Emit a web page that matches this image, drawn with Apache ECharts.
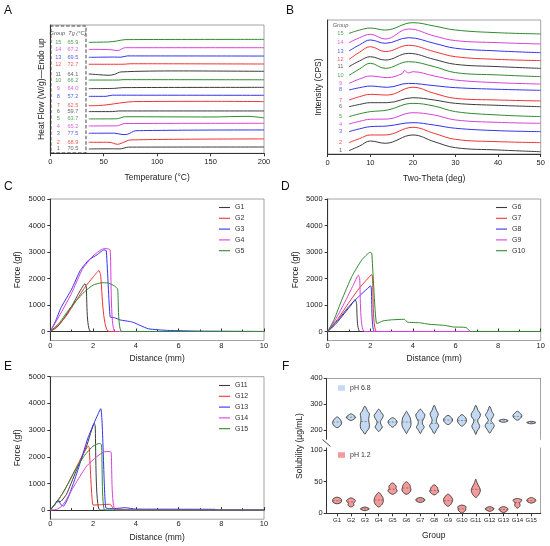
<!DOCTYPE html>
<html><head><meta charset="utf-8">
<script src="https://cdn.jsdelivr.net/npm/echarts@6/dist/echarts.min.js"></script>
<style>html,body{margin:0;padding:0;background:#fff}#c{width:550px;height:546px}</style>
</head><body><div id="c"></div><script>
const FONT = 'Arial, "Liberation Sans", Helvetica, sans-serif';
const K = '#3c3c3c', R = '#f23232', B = '#3232f0', M = '#d840d8', G = '#2e8a2e';

// ---------- Panel A: DSC ----------
const groupNumbers = ['1','2','3','4','5','6','7','8','9','10','11','12','13','14','15'];
const tgValues = ['70.5','68.9','77.5','65.2','63.7','59.7','62.5','57.2','64.0','66.2','64.1','72.7','69.5','67.2','65.9'];
const dsc1 = [[36,3.4],[60,3.5],[65,3.4],[73,4.8],[200,4.9]];
const dsc2 = [[36,8.6],[55,8.6],[63,7.0],[67,8.0],[75,10.4],[200,11.2]];
const dsc3 = [[36,15.6],[60,15.7],[68,14.6],[72,14.8],[80,17.6],[200,18.2]];
const dsc4 = [[36,21.3],[62,21.4],[70,23.2],[200,23.4]];
const dsc5 = [[36,26.8],[62,26.9],[70,28.5],[150,28.3],[185,28.8],[200,27.6]];
const dsc6 = [[36,32.5],[58,32.5],[64,33.0],[200,33.0]];
const dsc7 = [[36,37.1],[45,37.2],[55,38.0],[65,39.2],[78,40.3],[150,40.5],[200,40.3]];
const dsc8 = [[36,44.4],[52,44.4],[58,45.3],[200,45.2]];
const dsc9 = [[36,50.4],[60,50.6],[68,51.2],[200,51.4]];
const dsc10 = [[36,57.1],[64,57.1],[68,57.4],[200,57.3]];
const dsc11 = [[36,61.8],[45,61.3],[55,60.8],[60,61.5],[66,63.4],[120,64.2],[200,63.9]];
const dsc12 = [[36,69.4],[68,69.4],[75,69.8],[200,69.6]];
const dsc13 = [[36,74.8],[60,75.0],[66,74.9],[72,75.9],[200,75.8]];
const dsc14 = [[36,81.0],[56,80.8],[63,80.0],[70,82.3],[200,82.3]];
const dsc15 = [[36,86.5],[55,86.8],[62,87.5],[70,88.6],[200,88.8]];
const dscCurves = [dsc1,dsc2,dsc3,dsc4,dsc5,dsc6,dsc7,dsc8,dsc9,dsc10,dsc11,dsc12,dsc13,dsc14,dsc15];
const dscLineColors = [K,R,B,M,G,K,R,B,K,G,K,R,B,M,G];
const tableTextColors = [K,R,B,M,G,K,R,B,M,G,K,R,B,M,G];

// ---------- Panel B: XRD ----------
const xrd1 = [[5,2.5],[7.5,6.0],[10,9.7],[13.5,8.0],[20,14.2],[25,9.2],[30,4.7],[40,3.0],[50,1.7]];
const xrd2 = [[5,8.5],[7.5,11.5],[10,14.2],[13.5,14.2],[20,19.9],[25,15.4],[30,10.9],[40,9.2],[50,8.5]];
const xrd3 = [[5,16.7],[7.5,18.8],[10,20.4],[14,20.9],[20,23.4],[25,21.6],[30,19.2],[40,17.4],[50,16.7]];
const xrd4 = [[5,22.4],[7.5,24.4],[10,25.9],[14,26.1],[20,30.8],[25,29.1],[30,25.4],[40,23.6],[50,22.9]];
const xrd5 = [[5,27.9],[7.5,30.0],[10,31.6],[14,32.8],[20,37.8],[25,35.8],[30,31.6],[40,29.1],[50,27.9]];
const xrd6 = [[5,35.3],[7.5,37.0],[10,38.3],[14,38.3],[20,42.0],[25,40.3],[30,37.8],[40,36.3],[50,35.3]];
const xrd7 = [[5,40.3],[7.5,42.8],[10,44.5],[14,44.0],[20,49.8],[25,45.3],[30,41.5],[40,40.3],[50,39.6]];
const xrd8 = [[5,47.8],[7.5,49.5],[10,50.7],[14,49.8],[19,52.7],[25,51.0],[30,49.5],[40,48.3],[50,47.5]];
const xrd9 = [[5,52.7],[7.5,56.0],[10,58.2],[14,57.0],[17.5,60.0],[18,62.2],[19,60.5],[20,61.4],[25,58.2],[30,55.2],[40,53.2],[50,52.2]];
const xrd10 = [[5,58.7],[7.5,63.5],[10,67.7],[13.5,63.9],[19,68.9],[25,65.2],[30,60.7],[40,59.0],[50,57.7]];
const xrd11 = [[5,65.2],[7.5,69.5],[10,72.6],[13.5,70.1],[19,75.1],[25,70.6],[30,66.9],[40,65.2],[50,63.9]];
const xrd12 = [[5,70.6],[7.5,76.0],[10,80.1],[13.5,76.4],[19,81.1],[25,76.4],[30,72.6],[40,70.6],[50,69.7]];
const xrd13 = [[5,76.9],[7.5,81.5],[10,85.1],[13.5,82.6],[19,86.8],[25,82.6],[30,78.9],[40,76.9],[50,75.6]];
const xrd14 = [[5,83.1],[7.5,86.8],[10,89.3],[13.5,85.8],[19,93.3],[25,88.1],[30,84.6],[40,83.1],[50,82.1]];
const xrd15 = [[5,90.0],[7.5,92.5],[10,94.0],[13.5,92.5],[20,98.0],[25,95.5],[30,92.5],[40,90.5],[50,89.6]];
const xrdCurves = [xrd1,xrd2,xrd3,xrd4,xrd5,xrd6,xrd7,xrd8,xrd9,xrd10,xrd11,xrd12,xrd13,xrd14,xrd15];
const xrdColors = [K,R,B,M,G,K,R,B,M,G,K,R,B,M,G];

// ---------- Panels C, D, E: texture ----------
const texNames = ['G1','G2','G3','G4','G5','G6','G7','G8','G9','G10','G11','G12','G13','G14','G15'];
const texG1 = [[0,0],[0.3,150],[0.6,450],[1.0,950],[1.3,1400],[1.62,1800],[1.68,1700],[1.9,0],[10,0]];
const texG2 = [[0,0],[0.4,250],[0.8,650],[1.2,1150],[1.6,1650],[2.0,2050],[2.28,2300],[2.35,2150],[2.75,0],[10,0]];
const texG3 = [[0,0],[0.25,400],[0.5,900],[1.0,1600],[1.4,2300],[1.8,2700],[2.2,2900],[2.5,3080],[2.62,3050],[2.8,550],[3.0,520],[3.3,430],[3.7,380],[3.9,340],[4.2,230],[4.6,100],[5.5,40],[7,15],[10,0]];
const texG4 = [[0,0],[0.5,700],[1.0,1450],[1.5,2350],[2.0,2850],[2.4,3100],[2.6,3130],[2.8,3080],[3.03,0],[10,0]];
const texG5 = [[0,0],[0.4,300],[0.8,750],[1.2,1150],[1.6,1500],[2.0,1750],[2.4,1840],[2.7,1830],[3.0,1720],[3.15,1600],[3.35,0],[10,0]];
const texG6 = [[0,0],[0.4,300],[0.8,700],[1.1,1000],[1.28,1200],[1.35,1100],[1.52,0],[10,0]];
const texG7 = [[0,0],[0.5,500],[1.0,1100],[1.5,1650],[2.07,2150],[2.3,0],[10,0]];
const texG8 = [[0,0],[0.5,450],[1.0,950],[1.5,1350],[2.02,1720],[2.2,0],[10,0]];
const texG9 = [[0,0],[0.4,500],[0.8,1100],[1.2,1750],[1.44,2130],[1.5,2000],[1.72,0],[9.1,0]];
const texG10 = [[0,0],[0.3,450],[0.66,1190],[1.13,2070],[1.6,2700],[1.99,2990],[2.07,2950],[2.3,300],[2.6,400],[3.0,440],[3.6,460],[3.75,350],[4.3,330],[4.8,270],[5.5,230],[5.9,170],[6.5,150],[6.7,0],[10,0]];
const texG11 = [[0,0],[0.3,300],[0.5,330],[0.76,600],[1.2,1450],[1.7,2400],[2.06,3250],[2.1,3150],[2.32,0],[10,0]];
const texG12 = [[0,0],[0.6,650],[1.08,1380],[1.47,2000],[1.78,2400],[1.82,2350],[2.0,190],[2.3,200],[2.8,220],[2.95,60],[3.4,20],[4,0],[10,0]];
const texG13 = [[0,0],[0.2,200],[0.37,380],[0.5,200],[0.62,150],[0.8,400],[1.08,1000],[1.39,1750],[1.78,2750],[2.36,3800],[2.6,80],[3.0,60],[3.5,90],[4.0,40],[7.7,30],[7.8,0],[10,0]];
const texG14 = [[0,0],[0.3,30],[0.5,120],[0.69,310],[1.0,750],[1.23,1060],[1.7,1650],[2.17,2000],[2.5,2180],[2.8,2200],[2.85,2150],[3.05,0],[10,0]];
const texG15 = [[0,0],[0.4,400],[0.8,950],[1.2,1550],[1.6,2050],[2.0,2400],[2.3,2500],[2.4,2450],[2.55,0],[10,0]];
const texCurves = [texG1,texG2,texG3,texG4,texG5,texG6,texG7,texG8,texG9,texG10,texG11,texG12,texG13,texG14,texG15];
const texColors = [K,R,B,M,G,K,R,B,M,G,K,R,B,M,G];
const forceTicks = [0,1000,2000,3000,4000,5000];

// ---------- Panel F: solubility violins (value, relative half-width) ----------
const solGroups = ['G1','G2','G3','G4','G5','G6','G7','G8','G9','G10','G11','G12','G13','G14','G15'];
const solPositions = [1,2,3,4,5,6,7,8,9,10,11,12,13,14,15];
const violinPH68 = [
  [[208,0],[218,0.8],[228,1],[238,0.75],[250,0]],
  [[236,0],[243,0.8],[249,1],[255,0.7],[262,0]],
  [[183,0],[195,0.45],[205,0.9],[220,1],[235,0.85],[250,0.9],[262,1],[272,0.6],[292,0]],
  [[193,0],[203,0.5],[211,0.8],[222,0.45],[232,0.38],[245,0.8],[256,1],[266,0.6],[280,0]],
  [[210,0],[220,0.7],[230,1],[238,0.8],[247,0]],
  [[185,0],[198,0.4],[210,0.85],[222,1],[235,0.95],[248,0.8],[260,0.4],[272,0]],
  [[185,0],[198,0.4],[210,0.85],[222,0.5],[232,0.45],[245,0.8],[258,1],[268,0.6],[280,0]],
  [[185,0],[200,0.5],[215,1],[228,0.6],[238,0.45],[250,0.7],[262,0.9],[275,0.5],[295,0]],
  [[220,0],[228,0.7],[238,1],[246,0.8],[256,0]],
  [[214,0],[224,0.7],[236,1],[248,0.75],[259,0]],
  [[182,0],[195,0.3],[207,0.75],[217,0.85],[230,0.45],[240,0.5],[250,0.9],[262,1],[275,0.5],[295,0]],
  [[187,0],[200,0.5],[215,1],[226,0.7],[236,0.3],[246,0.55],[258,0.9],[270,0.5],[291,0]],
  [[229,0],[232,0.8],[235,1],[238,0.8],[241,0]],
  [[237,0],[245,0.7],[254,1],[262,0.7],[272,0]],
  [[223,0],[226,0.8],[228,1],[230,0.8],[233,0]]
];
const medianPH68 = [230,249,232,230,230,230,238,225,238,236,238,225,235,252,228];
const violinPH12 = [
  [[15,0],[17,0.85],[20,1],[23,0.85],[25.5,0]],
  [[10,0],[13,0.7],[15,0.55],[18,0.8],[20,1],[22,0.7],[24.5,0]],
  [[4,0],[5.5,0.7],[7,1],[8.5,0.7],[10,0]],
  [[10,0],[13,0.6],[17,0.95],[21,1],[25,0.9],[29,0.55],[33,0]],
  [[30,0],[33,0.8],[36,1],[39,0.75],[42,0.8],[45,0.6],[48,0]],
  [[30,0],[33,0.7],[37,1],[41,0.85],[44,0.8],[47,0.5],[50,0]],
  [[17,0],[19,0.8],[21,1],[23,0.85],[25,0]],
  [[29,0],[32,0.7],[35,1],[38,0.8],[41,0.7],[45,0]],
  [[11,0],[14,0.6],[18,0.9],[22,1],[26,0.7],[30.5,0]],
  [[0,0],[2,0.4],[5,0.8],[8,0.85],[10.5,0.9],[13,0]],
  [[25,0],[29,0.6],[33,0.9],[37,1],[41,0.8],[45,0.5],[49,0.25],[54,0]],
  [[3,0],[5,0.7],[7,1],[9,0.7],[10.5,0]],
  [[1,0],[3,0.6],[5,0.9],[7,1],[9,0.7],[10.5,0]],
  [[8,0],[11,0.5],[13,0.6],[16,0.5],[19,0.8],[21,1],[23.5,0]],
  [[16,0],[18,0.75],[20,1],[22,0.9],[25,0]]
];
const medianPH12 = [20,18,7,21,38,40,21,36,20,7,38,7,6,17,20];
const solTicksHigh = [200,300,400];
const solTicksLow = [0,50,100];

// ---------- helpers ----------
const tickLabel = {color:'#222', fontSize:7.5, fontFamily:FONT};
const nameStyle = {color:'#222', fontSize:8.5, fontFamily:FONT};
const darkLine = {show:true, lineStyle:{color:'#333', width:1}};
const gridFrame = {show:true, borderColor:'#8c8c8c', borderWidth:0.8, backgroundColor:'transparent'};
const HALF = 0.33;
const plain = v => String(v);

function lineSeries(name, data, color, idx, smooth){
  return {type:'line', name, data, xAxisIndex:idx, yAxisIndex:idx, symbol:'none', smooth,
    lineStyle:{color, width:1}, itemStyle:{color}, silent:true, animation:false};
}
function violinSeries(name, idx, profiles, medians, fill){
  return {
    type:'custom', name, xAxisIndex:idx, yAxisIndex:idx, itemStyle:{color:fill}, animation:false, silent:true,
    data: profiles.map((p,i)=>[solPositions[i], p[0][0], p[p.length-1][0]]),
    encode:{x:0, y:[1,2]},
    renderItem(params, api){
      const i = params.dataIndex, x = api.value(0), prof = profiles[i];
      const L = prof.map(([v,w])=>api.coord([x - w*HALF, v]));
      const Rr = prof.slice(1,-1).reverse().map(([v,w])=>api.coord([x + w*HALF, v]));
      const med = medians[i];
      let wm = 0;
      for (let k=0;k<prof.length-1;k++){
        const [v0,w0]=prof[k],[v1,w1]=prof[k+1];
        if (med>=v0 && med<=v1){ wm = w0 + (w1-w0)*(med-v0)/(v1-v0); break; }
      }
      const a = api.coord([x - wm*HALF*0.95, med]), b = api.coord([x + wm*HALF*0.95, med]);
      return {type:'group', children:[
        {type:'polygon', shape:{points:L.concat(Rr), smooth:0.3}, style:{fill, stroke:'#2a2a2a', lineWidth:0.8}},
        {type:'line', shape:{x1:a[0],y1:a[1],x2:b[0],y2:b[1]}, style:{stroke:'#555', lineWidth:0.6, lineDash:[2,1.5]}}
      ]};
    }
  };
}

const series = [];
// A
dscCurves.forEach((d,i)=>series.push(lineSeries('dsc'+(i+1), d, dscLineColors[i], 0, 0.3)));
series.push({
  type:'scatter', xAxisIndex:0, yAxisIndex:0, symbolSize:1, itemStyle:{color:'transparent'}, silent:true, animation:false,
  data: groupNumbers.map((g,i)=>({value:[7.5, dscCurves[i][0][1]], label:{formatter:g, color:tableTextColors[i]}}))
    .concat(tgValues.map((t,i)=>({value:[21.2, dscCurves[i][0][1]], label:{formatter:t, color:tableTextColors[i]}})))
    .concat([{value:[16.5, 93.6], label:{formatter:'Group  Tg (°C)', color:'#333', fontStyle:'italic'}}]),
  label:{show:true, position:'inside', fontSize:5.6, fontFamily:FONT},
  markArea:{silent:true, itemStyle:{color:'rgba(0,0,0,0)', borderColor:'#333', borderWidth:0.9, borderType:'dashed'},
    data:[[{coord:[0.6,0.3]},{coord:[33.4,99.2]}]]}
});
// B
xrdCurves.forEach((d,i)=>series.push(lineSeries('xrd'+(i+1), d, xrdColors[i], 1, 0.4)));
series.push({
  type:'scatter', xAxisIndex:1, yAxisIndex:1, symbolSize:1, itemStyle:{color:'transparent'}, silent:true, animation:false,
  data: groupNumbers.map((g,i)=>({value:[3.0, xrdCurves[i][0][1]], label:{formatter:g, color:xrdColors[i]}}))
    .concat([{value:[3.0, 96.3], label:{formatter:'Group', color:'#333', fontStyle:'italic'}}]),
  label:{show:true, position:'inside', fontSize:5.6, fontFamily:FONT}
});
// C, D, E
texCurves.forEach((d,i)=>series.push(lineSeries(texNames[i], d, texColors[i], 2 + Math.floor(i/5), 0.15)));
// F
series.push(violinSeries('pH 6.8', 5, violinPH68, medianPH68, '#c4daf3'));
series.push(violinSeries('pH 1.2', 6, violinPH12, medianPH12, '#f49a9a'));

function texX(idx){
  return {gridIndex:idx, type:'value', min:0, max:10, interval:2, name:'Distance (mm)', nameLocation:'middle', nameGap:14, nameTextStyle:nameStyle,
    axisLine:darkLine, axisTick:{show:true, inside:true, length:3, lineStyle:{color:'#333'}},
    minorTick:{show:true, splitNumber:2, length:2, lineStyle:{color:'#333'}},
    axisLabel:Object.assign({margin:1, formatter:plain}, tickLabel), splitLine:{show:false}};
}
function texY(idx){
  return {gridIndex:idx, type:'value', min:-340, max:5000, name:'Force (gf)', nameLocation:'middle', nameGap:28, nameTextStyle:nameStyle,
    axisLine:darkLine, axisTick:{show:true, length:3, customValues:forceTicks, lineStyle:{color:'#333'}},
    axisLabel:Object.assign({margin:5, customValues:forceTicks, formatter:plain}, tickLabel), splitLine:{show:false}};
}
function texLegend(names, left, top){
  return {data:names, left, top, orient:'vertical', icon:'rect', itemWidth:11, itemHeight:1.1, itemGap:3.8, padding:0, selectedMode:false,
    textStyle:{fontSize:7, color:'#333', fontFamily:FONT}};
}
const fX = {min:0.25, max:15.68};

const option = {
  animation:false,
  backgroundColor:'#fff',
  textStyle:{fontFamily:FONT},
  grid:[
    Object.assign({left:50.3, top:25, width:213.7, height:128.3, outerBoundsMode:'none'}, gridFrame),
    Object.assign({left:327.7, top:20, width:213, height:134, outerBoundsMode:'none'}, gridFrame),
    Object.assign({left:50.3, top:199, width:213.7, height:141.5, outerBoundsMode:'none'}, gridFrame),
    Object.assign({left:327.7, top:199, width:213, height:141.5, outerBoundsMode:'none'}, gridFrame),
    Object.assign({left:50.3, top:376.7, width:213.7, height:142.5, outerBoundsMode:'none'}, gridFrame),
    {left:326.7, top:378.3, width:214, height:61, show:false, outerBoundsMode:'none'},
    {left:326.7, top:448, width:214, height:65.3, show:false, outerBoundsMode:'none'}
  ],
  xAxis:[
    {gridIndex:0, type:'value', min:0, max:200, interval:50, name:'Temperature (°C)', nameLocation:'middle', nameGap:20, nameTextStyle:nameStyle,
      axisLine:darkLine, axisTick:{show:true, length:3, lineStyle:{color:'#333'}}, axisLabel:Object.assign({margin:5, formatter:plain}, tickLabel), splitLine:{show:false}},
    {gridIndex:1, type:'value', min:0, max:50, interval:10, name:'Two-Theta (deg)', nameLocation:'middle', nameGap:20, nameTextStyle:nameStyle,
      axisLine:darkLine, axisTick:{show:true, length:3, lineStyle:{color:'#333'}}, axisLabel:Object.assign({margin:5, formatter:plain}, tickLabel), splitLine:{show:false}},
    texX(2), texX(3), texX(4),
    {gridIndex:5, type:'value', min:fX.min, max:fX.max, position:'top', axisLine:{show:true, lineStyle:{color:'#8c8c8c', width:0.8}},
      axisTick:{show:false}, axisLabel:{show:false}, splitLine:{show:false}},
    {gridIndex:6, type:'value', min:fX.min, max:fX.max, name:'Group', nameLocation:'middle', nameGap:17.5, nameTextStyle:nameStyle,
      axisLine:darkLine, axisTick:{show:true, length:3, customValues:solPositions, lineStyle:{color:'#333'}},
      axisLabel:Object.assign({margin:4.5, customValues:solPositions, formatter:v=>solGroups[Math.round(v)-1]}, tickLabel, {fontSize:6}),
      splitLine:{show:false}}
  ],
  yAxis:[
    {gridIndex:0, type:'value', min:0, max:100, name:'Heat Flow (W/g)—Endo up', nameLocation:'middle', nameGap:4, nameTextStyle:nameStyle,
      axisLine:darkLine, axisTick:{show:false}, axisLabel:{show:false}, splitLine:{show:false}},
    {gridIndex:1, type:'value', min:0, max:100, name:'Intensity (CPS)', nameLocation:'middle', nameGap:4.5, nameTextStyle:nameStyle,
      axisLine:darkLine, axisTick:{show:false}, axisLabel:{show:false}, splitLine:{show:false}},
    texY(2), texY(3), texY(4),
    {gridIndex:5, type:'value', min:163, max:400, axisLine:darkLine,
      axisTick:{show:true, length:3, customValues:solTicksHigh, lineStyle:{color:'#333'}},
      axisLabel:Object.assign({margin:4, customValues:solTicksHigh, formatter:plain}, tickLabel), splitLine:{show:false}},
    {gridIndex:6, type:'value', min:0, max:103.2, axisLine:darkLine,
      axisTick:{show:true, length:3, customValues:solTicksLow, lineStyle:{color:'#333'}},
      axisLabel:Object.assign({margin:4, customValues:solTicksLow, formatter:plain}, tickLabel), splitLine:{show:false}},
    {gridIndex:5, type:'value', min:163, max:400, position:'right', axisLine:{show:true, lineStyle:{color:'#8c8c8c', width:0.8}},
      axisTick:{show:false}, axisLabel:{show:false}, splitLine:{show:false}},
    {gridIndex:6, type:'value', min:0, max:103.2, position:'right', axisLine:{show:true, lineStyle:{color:'#8c8c8c', width:0.8}},
      axisTick:{show:false}, axisLabel:{show:false}, splitLine:{show:false}}
  ],
  legend:[
    texLegend(texNames.slice(0,5), 219, 204),
    texLegend(texNames.slice(5,10), 496, 204),
    texLegend(texNames.slice(10,15), 219, 382),
    {data:['pH 6.8'], left:338, top:384.5, itemWidth:7, itemHeight:5.5, padding:0, selectedMode:false, icon:'rect',
      textStyle:{fontSize:7, color:'#333', fontFamily:FONT}},
    {data:['pH 1.2'], left:338, top:451.5, itemWidth:7, itemHeight:5.5, padding:0, selectedMode:false, icon:'rect',
      textStyle:{fontSize:7, color:'#333', fontFamily:FONT}}
  ],
  graphic:[
    {type:'text', left:4, top:5, style:{text:'A', fontSize:12, fill:'#111', fontFamily:FONT}},
    {type:'text', left:286, top:5, style:{text:'B', fontSize:12, fill:'#111', fontFamily:FONT}},
    {type:'text', left:4, top:181, style:{text:'C', fontSize:12, fill:'#111', fontFamily:FONT}},
    {type:'text', left:281, top:181, style:{text:'D', fontSize:12, fill:'#111', fontFamily:FONT}},
    {type:'text', left:4, top:361, style:{text:'E', fontSize:12, fill:'#111', fontFamily:FONT}},
    {type:'text', left:282, top:361, style:{text:'F', fontSize:12, fill:'#111', fontFamily:FONT}},
    {type:'text', x:300, y:446, rotation:Math.PI/2, style:{text:'Solubility (µg/mL)', fontSize:8.5, fill:'#222', fontFamily:FONT, align:'center', verticalAlign:'middle'}},
    {type:'line', shape:{x1:322.5, y1:439.5, x2:330.5, y2:446.5}, style:{stroke:'#333', lineWidth:0.9}}
  ],
  series
};
echarts.init(document.getElementById('c'), null, {renderer:'canvas'}).setOption(option);
</script></body></html>
